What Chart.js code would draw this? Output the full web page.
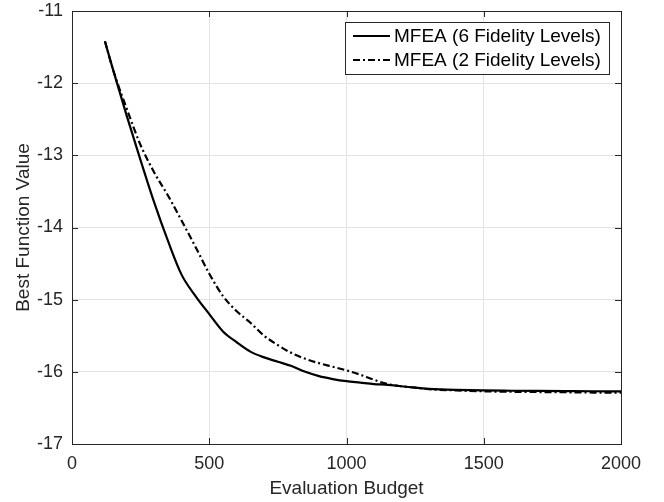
<!DOCTYPE html>
<html>
<head>
<meta charset="utf-8">
<script src="https://cdn.jsdelivr.net/npm/chart.js@4.4.1/dist/chart.umd.min.js"></script>
<style>
  html, body { margin: 0; padding: 0; background: #fff; }
  #wrap { width: 664px; height: 502px; }
</style>
</head>
<body>
<div id="wrap"><canvas id="chart" width="664" height="502"></canvas></div>
<script>
// evaluation budget (x) where the curves were read
const budget = [120, 150, 200, 250, 300, 350, 400, 450, 500, 550, 600, 650, 700, 750, 800,
                850, 900, 950, 1000, 1050, 1100, 1150, 1200, 1250, 1300, 1400, 1500, 1600,
                1700, 1800, 1900, 2000];

// MFEA (6 Fidelity Levels) - solid
const mfea6 = [-11.42, -11.82, -12.46, -13.07, -13.66, -14.19, -14.66, -14.95, -15.20, -15.44,
               -15.59, -15.72, -15.80, -15.86, -15.92, -16.00, -16.06, -16.10, -16.13, -16.15,
               -16.17, -16.18, -16.20, -16.22, -16.235, -16.25, -16.258, -16.262, -16.265, -16.267,
               -16.269, -16.27];

// MFEA (2 Fidelity Levels) - dash-dot
const mfea2 = [-11.42, -11.82, -12.36, -12.86, -13.24, -13.56, -13.91, -14.27, -14.64, -14.95,
               -15.16, -15.32, -15.50, -15.63, -15.74, -15.82, -15.88, -15.93, -15.98, -16.04,
               -16.11, -16.17, -16.20, -16.22, -16.24, -16.258, -16.27, -16.276, -16.28, -16.283,
               -16.287, -16.29];

const xTicks = [0, 500, 1000, 1500, 2000];
const yTicks = [-17, -16, -15, -14, -13, -12, -11];

const FONT = '"Liberation Sans", Arial, Helvetica, sans-serif';
const AXIS = '#262626';

/* --------- box, inward ticks, legend --------- */
const matlabBox = {
  id: 'matlabBox',
  afterDatasetsDraw(chart) {
    const {ctx, chartArea: a, scales: {x, y}} = chart;
    ctx.save();
    ctx.strokeStyle = AXIS;
    ctx.lineWidth = 1;
    ctx.beginPath();
    xTicks.forEach(v => {
      const px = Math.round(x.getPixelForValue(v)) + 0.5;
      ctx.moveTo(px, a.bottom); ctx.lineTo(px, a.bottom - 6);
      ctx.moveTo(px, a.top); ctx.lineTo(px, a.top + 6);
    });
    yTicks.forEach(v => {
      const py = Math.round(y.getPixelForValue(v)) + 0.5;
      ctx.moveTo(a.left, py); ctx.lineTo(a.left + 6, py);
      ctx.moveTo(a.right, py); ctx.lineTo(a.right - 6, py);
    });
    ctx.stroke();
    ctx.strokeRect(Math.round(a.left) + 0.5, Math.round(a.top) + 0.5,
                   Math.round(a.right - a.left), Math.round(a.bottom - a.top));

    // legend
    const bx = a.right - 276, by = a.top + 11, bw = 264, bh = 52;
    ctx.fillStyle = '#fff';
    ctx.fillRect(bx, by, bw, bh);
    ctx.strokeRect(bx + 0.5, by + 0.5, bw, bh);
    ctx.font = '19px ' + FONT;
    ctx.textBaseline = 'middle';
    ctx.fillStyle = '#000';
    chart.data.datasets.forEach((ds, i) => {
      const cy = by + 14 + i * 24;
      ctx.save();
      ctx.strokeStyle = ds.borderColor;
      ctx.lineWidth = ds.borderWidth;
      ctx.setLineDash(ds.borderDash || []);
      ctx.beginPath();
      ctx.moveTo(bx + 8, cy); ctx.lineTo(bx + 45, cy);
      ctx.stroke();
      ctx.restore();
      ctx.fillText(ds.label, bx + 49, cy + 1);
    });
    ctx.restore();
  }
};

new Chart(document.getElementById('chart'), {
  type: 'line',
  data: {
    datasets: [
      {
        label: 'MFEA (6 Fidelity Levels)',
        data: budget.map((b, i) => ({x: b, y: mfea6[i]})),
        borderColor: '#000',
        borderWidth: 2.2,
        pointRadius: 0,
        cubicInterpolationMode: 'monotone',
        fill: false
      },
      {
        label: 'MFEA (2 Fidelity Levels)',
        data: budget.map((b, i) => ({x: b, y: mfea2[i]})),
        borderColor: '#000',
        borderWidth: 2.2,
        borderDash: [7, 3, 2, 3],
        pointRadius: 0,
        cubicInterpolationMode: 'monotone',
        fill: false
      }
    ]
  },
  options: {
    responsive: false,
    animation: false,
    layout: { padding: { top: 0, right: 43, bottom: 0, left: 0 } },
    plugins: { legend: { display: false }, tooltip: { enabled: false } },
    scales: {
      x: {
        type: 'linear',
        min: 0, max: 2000,
        afterBuildTicks: s => { s.ticks = xTicks.map(v => ({value: v})); },
        afterFit: s => { s.height = 58; },
        grid: { color: '#e3e3e3', drawTicks: false },
        border: { display: false },
        ticks: { padding: 9, color: AXIS, font: { family: FONT, size: 18 }, maxRotation: 0,
                 callback: v => String(v) },
        title: { display: true, text: 'Evaluation Budget', color: AXIS,
                 font: { family: FONT, size: 19 }, padding: { top: 0, bottom: 2 } }
      },
      y: {
        min: -17, max: -11,
        afterBuildTicks: s => { s.ticks = yTicks.map(v => ({value: v})); },
        afterFit: s => { s.width = 72; s.paddingTop = 11; s.paddingBottom = 0; },
        grid: { color: '#e3e3e3', drawTicks: false },
        border: { display: false },
        ticks: { padding: 9, color: AXIS, font: { family: FONT, size: 18 },
                 callback: v => String(v) },
        title: { display: true, text: 'Best Function Value', color: AXIS,
                 font: { family: FONT, size: 19 }, padding: { top: 12, bottom: 0 } }
      }
    }
  },
  plugins: [matlabBox]
});
</script>
</body>
</html>
